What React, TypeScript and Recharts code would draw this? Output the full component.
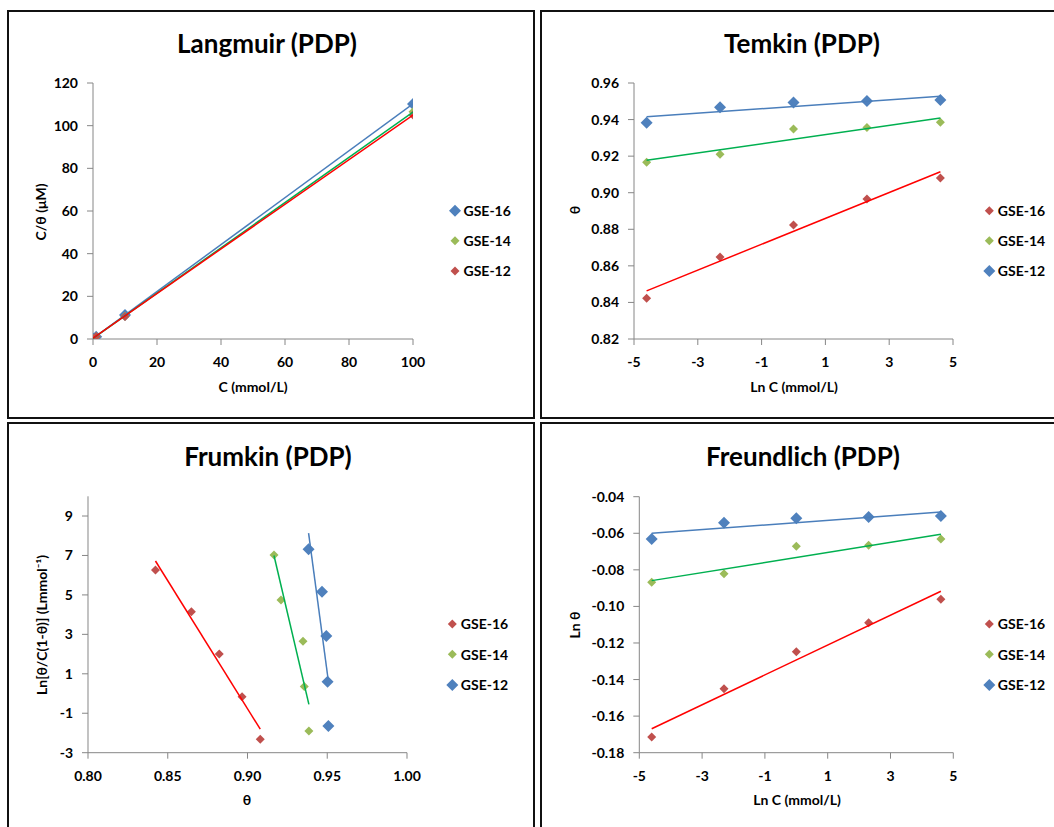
import React from 'react';
import { ScatterChart, Scatter, XAxis, YAxis } from 'recharts';

const FONT = 'Lato, "Open Sans", "Noto Sans", sans-serif';

// ---- shared x values ----
const concC = [0.01, 0.1, 1, 10, 100];
const lnC = [-4.605, -2.303, 0, 2.303, 4.605];
const trendConc = [0.01, 100];
const trendLnC = [-4.605, 4.605];

// ---- Langmuir (C/θ vs C) ----
const langBlue = [0.0106, 0.106, 1.05, 11.2, 110.2];
const langGreen = [0.0109, 0.109, 1.07, 10.7, 106.5];
const langRed = [0.0119, 0.116, 1.13, 10.5, 105.0];
const langBlueTrend = [0.3, 110.2];
const langGreenTrend = [0.3, 106.4];
const langRedTrend = [0.4, 105.0];

// ---- Temkin (θ vs Ln C) ----
const temRed = [0.8423, 0.8648, 0.8823, 0.8966, 0.908];
const temGreen = [0.9166, 0.921, 0.9348, 0.9356, 0.9385];
const temBlue = [0.9383, 0.9467, 0.9494, 0.9502, 0.9507];
const temRedTrend = [0.8463, 0.9115];
const temGreenTrend = [0.9177, 0.9409];
const temBlueTrend = [0.9416, 0.9527];

// ---- Frumkin (Ln[θ/C(1-θ)] vs θ) ----
const fruRedY = [6.26, 4.15, 2.0, -0.16, -2.32];
const fruGreenY = [7.02, 4.74, 2.65, 0.35, -1.9];
const fruBlueY = [7.31, 5.16, 2.92, 0.6, -1.65];
const fruRedTrendX = [0.8423, 0.908];
const fruRedTrendY = [6.72, -1.81];
const fruGreenTrendX = [0.9166, 0.9385];
const fruGreenTrendY = [7.0, -0.55];
const fruBlueTrendX = [0.9383, 0.9505];
const fruBlueTrendY = [8.13, 0.75];

// ---- Freundlich (Ln θ vs Ln C) ----
const freRed = [-0.1714, -0.145, -0.1248, -0.1089, -0.0961];
const freGreen = [-0.0868, -0.0821, -0.0671, -0.0666, -0.0631];
const freBlue = [-0.0631, -0.0542, -0.0518, -0.0511, -0.0506];
const freRedTrend = [-0.1669, -0.0917];
const freGreenTrend = [-0.0859, -0.0606];
const freBlueTrend = [-0.06, -0.0484];

// ---- ticks ----
const langXTicks = [0, 20, 40, 60, 80, 100];
const langYTicks = [0, 20, 40, 60, 80, 100, 120];
const lnCTicks = [-5, -3, -1, 1, 3, 5];
const temYTicks = [0.82, 0.84, 0.86, 0.88, 0.9, 0.92, 0.94, 0.96];
const fruXTicks = [0.8, 0.85, 0.9, 0.95, 1.0];
const fruYTicks = [-3, -1, 1, 3, 5, 7, 9];
const freYTicks = [-0.18, -0.16, -0.14, -0.12, -0.1, -0.08, -0.06, -0.04];

// ---- colours ----
const BLUE = '#4F81BD';
const GREEN = '#9BBB59';
const RED = '#C0504D';
const BLUE_LINE = '#4A7EBB';
const GREEN_LINE = '#00B050';
const RED_LINE = '#FF0000';

const pts = (xs: number[], ys: number[]) => xs.map((x, i) => ({ x, y: ys[i] }));

const diamond = (r: number, fill: string) => (props: any) => {
  const { cx, cy } = props;
  if (cx == null || cy == null) return <g />;
  return <path d={`M${cx},${cy - r}L${cx + r},${cy}L${cx},${cy + r}L${cx - r},${cy}Z`} fill={fill} />;
};

type SeriesDef = { data: { x: number; y: number }[]; color: string; r: number };
type TrendDef = { data: { x: number; y: number }[]; color: string };

type PanelProps = {
  box: { left: number; top: number };
  plot: { left: number; top: number; right: number; bottom: number };
  xDomain: [number, number];
  xTicks: number[];
  yDomain: [number, number];
  yTicks: number[];
  xFmt?: (v: number) => string;
  yFmt?: (v: number) => string;
  series: SeriesDef[];
  trends: TrendDef[];
};

const tickStyle = { fill: '#000', fontSize: 14, fontWeight: 700, fontFamily: FONT };

function Panel(p: PanelProps) {
  const chartLeft = p.box.left + 2;
  const chartTop = p.box.top + 2;
  const yw = p.plot.left - chartLeft;
  const mt = p.plot.top - chartTop;
  const W = p.plot.right - chartLeft + 20;
  const H = p.plot.bottom - chartTop + 40;
  return (
    <div style={{ position: 'absolute', left: chartLeft, top: chartTop }}>
      <ScatterChart width={W} height={H} margin={{ top: mt, right: 20, bottom: 10, left: 0 }}>
        <XAxis
          type="number"
          dataKey="x"
          domain={p.xDomain}
          ticks={p.xTicks}
          interval={0}
          allowDataOverflow
          height={30}
          tickSize={6}
          tickMargin={12}
          tickFormatter={p.xFmt}
          axisLine={{ stroke: '#868686' }}
          tickLine={{ stroke: '#868686' }}
          tick={tickStyle}
        />
        <YAxis
          type="number"
          dataKey="y"
          domain={p.yDomain}
          ticks={p.yTicks}
          interval={0}
          allowDataOverflow
          width={yw}
          tickSize={6}
          tickMargin={9}
          tickFormatter={p.yFmt}
          axisLine={{ stroke: '#868686' }}
          tickLine={{ stroke: '#868686' }}
          tick={tickStyle}
        />
        {p.series.map((s, i) => (
          <Scatter
            key={'s' + i}
            data={s.data}
            fill={s.color}
            shape={diamond(s.r, s.color)}
            isAnimationActive={false}
          />
        ))}
        {p.trends.map((t, i) => (
          <Scatter
            key={'t' + i}
            data={t.data}
            fill={t.color}
            line={{ stroke: t.color, strokeWidth: 1.5 }}
            shape={() => <g />}
            isAnimationActive={false}
          />
        ))}
      </ScatterChart>
    </div>
  );
}

const f2 = (v: number) => v.toFixed(2);

type LegendItem = { label: string; color: string; r: number };

function Legend({ x, ys, items }: { x: number; ys: number[]; items: LegendItem[] }) {
  return (
    <g>
      {items.map((it, i) => (
        <g key={i}>
          <path
            d={`M${x},${ys[i] - it.r}L${x + it.r},${ys[i]}L${x},${ys[i] + it.r}L${x - it.r},${ys[i]}Z`}
            fill={it.color}
          />
          <text x={x + 8.5} y={ys[i] + 5.3} fontSize={14} fontWeight={700} fontFamily={FONT} fill="#000">
            {it.label}
          </text>
        </g>
      ))}
    </g>
  );
}

const boxStyle = (left: number, top: number, width: number, height: number): React.CSSProperties => ({
  position: 'absolute',
  left,
  top,
  width,
  height,
  border: '2px solid #111',
  boxSizing: 'border-box',
});

export default function App() {
  const legend1: LegendItem[] = [
    { label: 'GSE-16', color: BLUE, r: 6 },
    { label: 'GSE-14', color: GREEN, r: 4.5 },
    { label: 'GSE-12', color: RED, r: 4.5 },
  ];
  const legendN: LegendItem[] = [
    { label: 'GSE-16', color: RED, r: 4.5 },
    { label: 'GSE-14', color: GREEN, r: 4.5 },
    { label: 'GSE-12', color: BLUE, r: 6 },
  ];
  const titleProps = { fontSize: 26, fontWeight: 700, fontFamily: FONT, fill: '#000', textAnchor: 'middle' as const };
  const axisTitle = { fontSize: 14, fontWeight: 700, fontFamily: FONT, fill: '#000', textAnchor: 'middle' as const };

  return (
    <div style={{ position: 'absolute', left: 0, top: 0, width: 1054, height: 827, overflow: 'hidden', background: '#fff' }}>
      <div style={boxStyle(7, 10, 528, 409)} />
      <div style={boxStyle(540, 10, 530, 409)} />
      <div style={boxStyle(7, 422, 528, 420)} />
      <div style={boxStyle(540, 422, 530, 420)} />

      <Panel
        box={{ left: 7, top: 10 }}
        plot={{ left: 93, top: 83, right: 413, bottom: 339 }}
        xDomain={[0, 100]}
        xTicks={langXTicks}
        yDomain={[0, 120]}
        yTicks={langYTicks}
        series={[
          { data: pts(concC, langBlue), color: BLUE, r: 6 },
          { data: pts(concC, langGreen), color: GREEN, r: 4.5 },
          { data: pts(concC, langRed), color: RED, r: 4.5 },
        ]}
        trends={[
          { data: pts(trendConc, langBlueTrend), color: BLUE_LINE },
          { data: pts(trendConc, langGreenTrend), color: GREEN_LINE },
          { data: pts(trendConc, langRedTrend), color: RED_LINE },
        ]}
      />

      <Panel
        box={{ left: 540, top: 10 }}
        plot={{ left: 634, top: 83, right: 953, bottom: 339 }}
        xDomain={[-5, 5]}
        xTicks={lnCTicks}
        yDomain={[0.82, 0.96]}
        yTicks={temYTicks}
        yFmt={f2}
        series={[
          { data: pts(lnC, temRed), color: RED, r: 4.5 },
          { data: pts(lnC, temGreen), color: GREEN, r: 4.5 },
          { data: pts(lnC, temBlue), color: BLUE, r: 6 },
        ]}
        trends={[
          { data: pts(trendLnC, temBlueTrend), color: BLUE_LINE },
          { data: pts(trendLnC, temGreenTrend), color: GREEN_LINE },
          { data: pts(trendLnC, temRedTrend), color: RED_LINE },
        ]}
      />

      <Panel
        box={{ left: 7, top: 422 }}
        plot={{ left: 88, top: 496.3, right: 407, bottom: 752.7 }}
        xDomain={[0.8, 1.0]}
        xTicks={fruXTicks}
        xFmt={f2}
        yDomain={[-3, 10]}
        yTicks={fruYTicks}
        series={[
          { data: pts(temRed, fruRedY), color: RED, r: 4.5 },
          { data: pts(temGreen, fruGreenY), color: GREEN, r: 4.5 },
          { data: pts(temBlue, fruBlueY), color: BLUE, r: 6 },
        ]}
        trends={[
          { data: pts(fruBlueTrendX, fruBlueTrendY), color: BLUE_LINE },
          { data: pts(fruGreenTrendX, fruGreenTrendY), color: GREEN_LINE },
          { data: pts(fruRedTrendX, fruRedTrendY), color: RED_LINE },
        ]}
      />

      <Panel
        box={{ left: 540, top: 422 }}
        plot={{ left: 639.3, top: 496.7, right: 953.3, bottom: 752.7 }}
        xDomain={[-5, 5]}
        xTicks={lnCTicks}
        yDomain={[-0.18, -0.04]}
        yTicks={freYTicks}
        yFmt={f2}
        series={[
          { data: pts(lnC, freRed), color: RED, r: 4.5 },
          { data: pts(lnC, freGreen), color: GREEN, r: 4.5 },
          { data: pts(lnC, freBlue), color: BLUE, r: 6 },
        ]}
        trends={[
          { data: pts(trendLnC, freBlueTrend), color: BLUE_LINE },
          { data: pts(trendLnC, freGreenTrend), color: GREEN_LINE },
          { data: pts(trendLnC, freRedTrend), color: RED_LINE },
        ]}
      />

      <svg width={1054} height={827} style={{ position: 'absolute', left: 0, top: 0, pointerEvents: 'none' }}>
        <text x={267} y={53} {...titleProps}>Langmuir (PDP)</text>
        <text x={802} y={53} {...titleProps}>Temkin (PDP)</text>
        <text x={268} y={466} {...titleProps}>Frumkin (PDP)</text>
        <text x={803} y={466} {...titleProps}>Freundlich (PDP)</text>

        <text x={253} y={392} {...axisTitle}>C (mmol/L)</text>
        <text x={794} y={392} {...axisTitle}>Ln C (mmol/L)</text>
        <text x={247} y={805} {...axisTitle}>θ</text>
        <text x={797} y={805} {...axisTitle}>Ln C (mmol/L)</text>

        <text transform="translate(46,212) rotate(-90)" {...axisTitle}>C/θ (μM)</text>
        <text transform="translate(580,210) rotate(-90)" {...axisTitle}>θ</text>
        <text transform="translate(47,625) rotate(-90)" {...axisTitle}>Ln[θ/C(1-θ)] (Lmmol⁻¹)</text>
        <text transform="translate(580,625) rotate(-90)" {...axisTitle}>Ln θ</text>

        <Legend x={455} ys={[210.7, 240.7, 271]} items={legend1} />
        <Legend x={989.3} ys={[210.7, 240.7, 271]} items={legendN} />
        <Legend x={452.3} ys={[624, 654.3, 685]} items={legendN} />
        <Legend x={989.3} ys={[624, 654.3, 685]} items={legendN} />
      </svg>
    </div>
  );
}
